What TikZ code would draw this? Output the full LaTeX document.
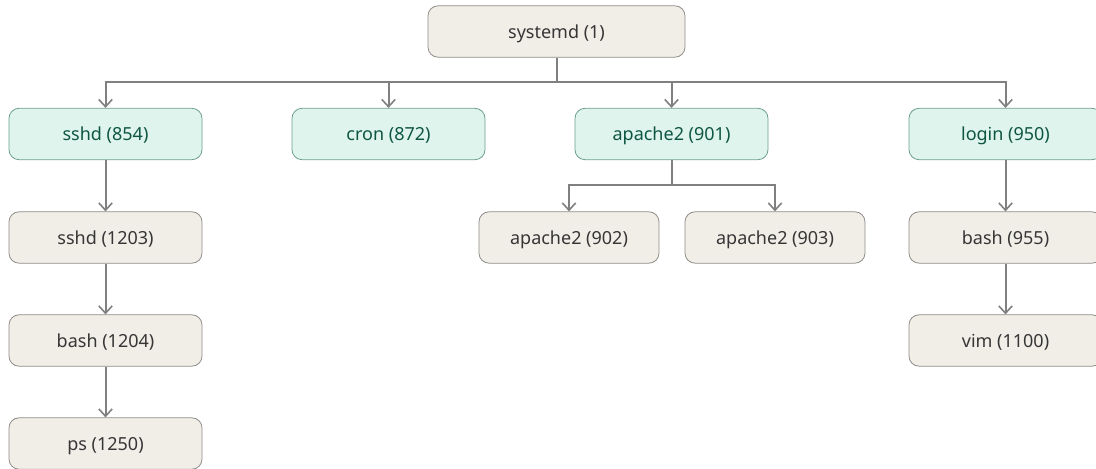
\documentclass[tikz,border=0pt]{standalone}
\usepackage{fontspec}
\setmainfont{Noto Sans}
\usetikzlibrary{arrows.meta}
\definecolor{procfill}{HTML}{F1EEE8}
\definecolor{procline}{HTML}{8E8C88}
\definecolor{procext}{HTML}{363636}
\definecolor{srvfill}{HTML}{E0F4EE}
\definecolor{srvline}{HTML}{6A9E8C}
\definecolor{srvtext}{HTML}{0E5642}
\definecolor{wire}{HTML}{808080}
\tikzset{
proc/.style={draw=procline, fill=procfill, text=procext, rounded corners=7.5pt, line width=.6pt, minimum width=144.75pt, minimum height=38.5pt, inner sep=0pt, text depth=0pt, font=\fontsize{13.5}{16}\selectfont}, % ordinary process
srv/.style={proc, draw=srvline, fill=srvfill, text=srvtext}, % daemon started by init
wire/.style={draw=wire, line width=1.5pt},
>={Straight Barb[length=5.5pt, width=10pt, line width=1.2pt]},
}
\begin{document}
\begin{tikzpicture}[x=0.75pt, y=-0.75pt]
    \useasboundingbox (0,0) rectangle (1096,468);
    \node[proc, minimum width=192.75pt] at (556.5,31.5) (init) {systemd (1)};
    % first level
    \node[srv] at (105.5,134) (sshd) {sshd (854)};
    \node[srv] at (388.5,134) (cron) {cron (872)};
    \node[srv] at (671.5,134) (apache) {apache2 (901)};
    \node[srv] at (1005.5,134) (login) {login (950)};
    % children
    \node[proc] at (105.5,237.5) (sshdc) {sshd (1203)};
    \node[proc] at (105.5,340.5) (bashs) {bash (1204)};
    \node[proc] at (105.5,443.5) (ps) {ps (1250)};
    \node[proc, minimum width=135pt] at (569,237.5) (apa) {apache2 (902)};
    \node[proc, minimum width=135pt] at (775,237.5) (apb) {apache2 (903)};
    \node[proc] at (1005.5,237.5) (bashl) {bash (955)};
    \node[proc] at (1005.5,340.5) (vim) {vim (1100)};
    \coordinate (bus) at (556.5,82);
    \coordinate (apbus) at (671.5,185);
    \draw[wire] (init) -- (bus)
    (apache) -- (apbus);
    \foreach \n in {sshd,cron,apache,login}
        \draw[wire, ->] (bus) -| (\n);
    \foreach \n in {apa,apb}
        \draw[wire, ->] (apbus) -| (\n);
    \foreach \a/\b in {sshd/sshdc, sshdc/bashs, bashs/ps, login/bashl, bashl/vim}
        \draw[wire, ->] (\a) -- (\b);
\end{tikzpicture}
\end{document}
